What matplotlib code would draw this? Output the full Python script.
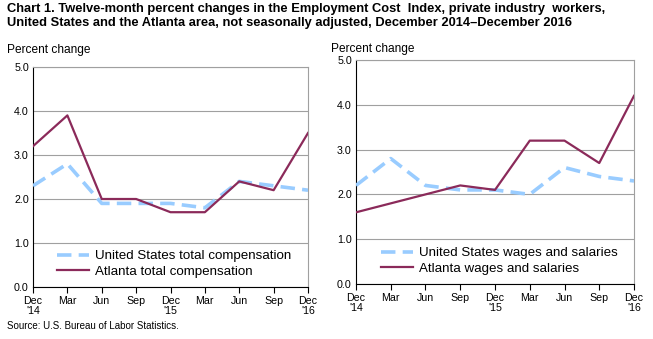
import matplotlib
matplotlib.use("Agg")
import matplotlib.pyplot as plt

plt.rcParams["font.family"] = ["Liberation Sans", "DejaVu Sans"]

quarters = ["Dec\n'14", "Mar", "Jun", "Sep", "Dec\n'15", "Mar", "Jun", "Sep", "Dec\n'16"]
us_total = [2.3, 2.8, 1.9, 1.9, 1.9, 1.8, 2.4, 2.3, 2.2]
atl_total = [3.2, 3.9, 2.0, 2.0, 1.7, 1.7, 2.4, 2.2, 3.5]
us_wages = [2.2, 2.8, 2.2, 2.1, 2.1, 2.0, 2.6, 2.4, 2.3]
atl_wages = [1.6, 1.8, 2.0, 2.2, 2.1, 3.2, 3.2, 2.7, 4.2]

US_COLOR = "#99ccff"
ATL_COLOR = "#8b2a5a"
W, H = 653, 339

fig = plt.figure(figsize=(W / 100, H / 100), dpi=100)


def make_axes(l, r, t, b):
    return fig.add_axes([l / W, 1 - b / H, (r - l) / W, (b - t) / H])


def draw_panel(ax, us, atl, us_label, atl_label):
    x = list(range(len(quarters)))
    ax.plot(x, us, color=US_COLOR, lw=2.6, dashes=(4, 2.0), label=us_label, zorder=3)
    ax.plot(x, atl, color=ATL_COLOR, lw=1.6, label=atl_label, zorder=4)
    ax.set_xlim(0, len(quarters) - 1)
    ax.set_ylim(0, 5)
    ax.set_yticks([0, 1, 2, 3, 4, 5])
    ax.set_yticklabels([f"{v:.1f}" for v in range(6)])
    ax.set_xticks(x)
    ax.set_xticklabels(quarters, linespacing=1.05)
    ax.grid(axis="y", color="#a0a0a0", lw=0.8)
    ax.set_axisbelow(True)
    for name, sp in ax.spines.items():
        sp.set_color("#a0a0a0")
        sp.set_linewidth(0.8)
    ax.spines["left"].set_color("black")
    ax.spines["bottom"].set_color("black")
    ax.tick_params(axis="x", length=4, width=0.8, labelsize=7.7, pad=2.5)
    ax.tick_params(axis="y", length=0, labelsize=7.7, pad=3)
    leg = ax.legend(loc="lower left", bbox_to_anchor=(0.055, 0.0), frameon=False,
                    fontsize=9.6, handlelength=2.4, handletextpad=0.45,
                    borderaxespad=0.3, labelspacing=0.22)
    return leg


ax1 = make_axes(33, 308, 67, 287)
draw_panel(ax1, us_total, atl_total,
           "United States total compensation", "Atlanta total compensation")
ax2 = make_axes(356, 634, 60, 284)
draw_panel(ax2, us_wages, atl_wages,
           "United States wages and salaries", "Atlanta wages and salaries")

fig.text(7 / W, 1 - 3 / H,
         "Chart 1. Twelve-month percent changes in the Employment Cost  Index, private industry  workers,\n"
         "United States and the Atlanta area, not seasonally adjusted, December 2014\u2013December 2016",
         fontsize=9.3, weight="bold", va="top", ha="left", linespacing=1.2)
fig.text(7 / W, 1 - 50 / H, "Percent change", fontsize=8.6, va="center", ha="left")
fig.text(331 / W, 1 - 49 / H, "Percent change", fontsize=8.6, va="center", ha="left")
fig.text(7 / W, 1 - 326 / H, "Source: U.S. Bureau of Labor Statistics.", fontsize=7,
         va="center", ha="left")

fig.savefig("out.png", dpi=100)
